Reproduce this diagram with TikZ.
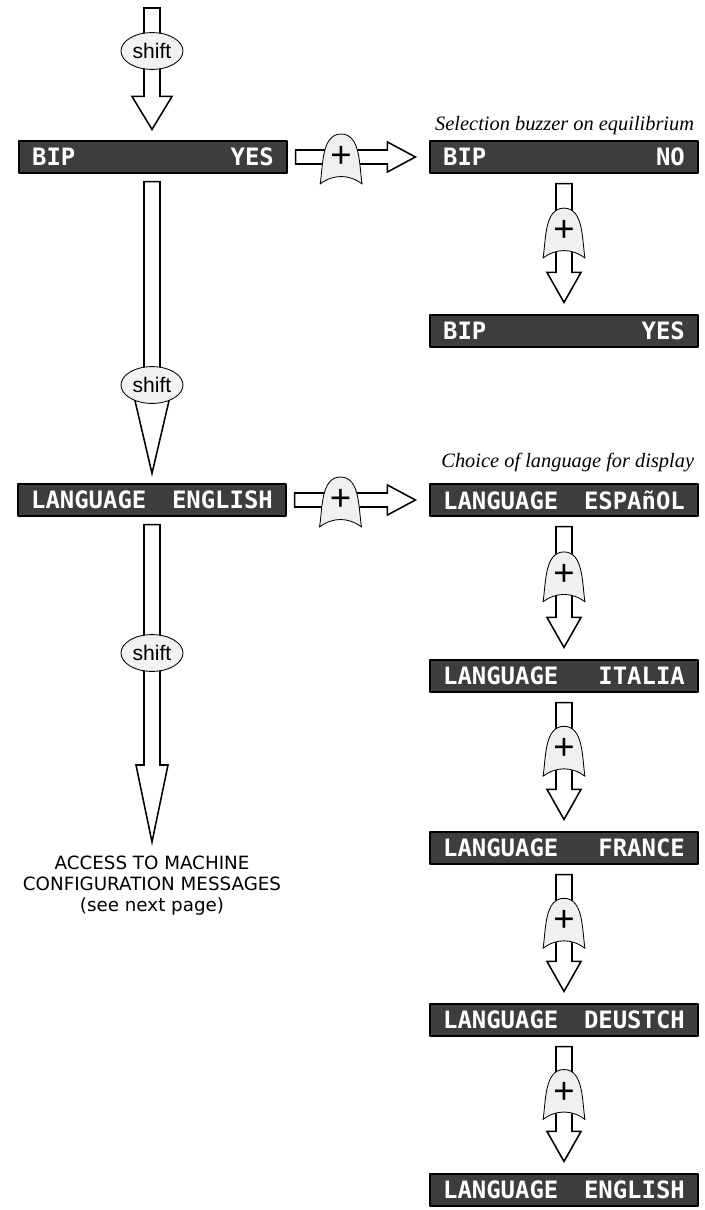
\documentclass[tikz,border=0pt]{standalone}
\usepackage{fontspec}
\usepackage{tikz}
\usetikzlibrary{calc,shapes.geometric}
\newfontfamily\lcdfont{DejaVu Sans Mono}
\newfontfamily\keyfont{Liberation Sans}
\newfontfamily\notefont{DejaVu Sans}
\newfontfamily\capfont{Liberation Serif}

% hollow block arrows, start and tip share x (or y)
\newcommand{\blockdown}[4]{%
  \draw[blockline] ($(#1)+(-8,0)$) -- ($(#1)+(8,0)$) -- ($(#2)+(8,-#3)$) -- ($(#2)+(#4,-#3)$)
    -- (#2) -- ($(#2)+(-#4,-#3)$) -- ($(#2)+(-8,-#3)$) -- cycle;}
\newcommand{\blockright}[2]{%
  \draw[blockline] ($(#1)+(0,-7)$) -- ($(#2)+(-28,-7)$) -- ($(#2)+(-28,-15)$) -- (#2)
    -- ($(#2)+(-28,15)$) -- ($(#2)+(-28,7)$) -- ($(#1)+(0,7)$) -- cycle;}

\tikzset{
  display/.style={draw=black, fill=black!76, text=white, line width=0.8pt,
    minimum width=6.7cm, minimum height=0.8cm, inner xsep=0.33cm, inner ysep=0pt,
    text width=6.04cm, align=left, font=\lcdfont\bfseries\fontsize{17}{17}\selectfont},
  shiftkey/.style={ellipse, draw=black, fill=black!5, line width=0.6pt,
    minimum width=1.55cm, minimum height=0.92cm, inner sep=0pt,
    font=\keyfont\fontsize{15}{15}\selectfont},
  blockline/.style={draw=black, fill=white, line width=1.1pt, line join=miter},
  keyfill/.style={draw=black, fill=black!6, line width=0.6pt},
  caption/.style={font=\capfont\itshape\fontsize{14.5}{15}\selectfont, anchor=base east},
  pluskey/.pic={
    \filldraw[keyfill] (-21,27) .. controls (-18,10) and (-20,-23) .. (0,-23)
      .. controls (20,-23) and (18,10) .. (21,27) .. controls (8,17) and (-8,17) .. cycle;
    \node[font=\keyfont\fontsize{26}{26}\selectfont, inner sep=0pt] at (0,0) {+};
  }
}

\begin{document}
\begin{tikzpicture}[x=0.025cm, y=-0.025cm, line join=round]
  \useasboundingbox (0,0) rectangle (704,1210);

  % left column
  \coordinate (top) at (152,8);
  \node[display] (bip1) at (153,157) {BIP\hfill YES};
  \node[display] (lang0) at (152,500) {LANGUAGE\hfill ENGLISH};
  \coordinate (t3) at (152,842);
  \node[font=\notefont\fontsize{13}{15}\selectfont, align=center, anchor=north] (access)
    at (152,851) {ACCESS TO MACHINE\\CONFIGURATION MESSAGES\\(see next page)};

  % right column
  \node[display] (bip2) at (564,157) {BIP\hfill NO};
  \node[display] (bip3) at (564,331) {BIP\hfill YES};
  \node[display] (lang1) at (564,500) {LANGUAGE\hfill ESPAñOL};
  \node[display] (lang2) at (564,676) {LANGUAGE\hfill ITALIA};
  \node[display] (lang3) at (564,848) {LANGUAGE\hfill FRANCE};
  \node[display] (lang4) at (564,1020) {LANGUAGE\hfill DEUSTCH};
  \node[display] (lang5) at (564,1190) {LANGUAGE\hfill ENGLISH};
  \node[caption] (cap1) at (699,130) {Selection buzzer on equilibrium};
  \node[caption] (cap2) at (699,467) {Choice of language for display};

  % shift arrows
  \coordinate (t1) at ($(bip1.north)+(-1,-11)$);
  \blockdown{top}{t1}{33}{20}
  \coordinate (s2) at ($(bip1.south)+(-1,8)$);
  \coordinate (t2) at ($(lang0.north)+(0,-10)$);
  \blockdown{s2}{t2}{77}{18}
  \coordinate (s3) at ($(lang0.south)+(0,8)$);
  \blockdown{s3}{t3}{77}{16}
  \node[shiftkey] (shift1) at (152,51) {shift};
  \node[shiftkey] (shift2) at (152,385) {shift};
  \node[shiftkey] (shift3) at (152,653) {shift};

  % plus arrows
  \coordinate (h1s) at ($(bip1.east)+(8,0)$);
  \coordinate (h1t) at ($(bip2.west)+(-14,0)$);
  \blockright{h1s}{h1t}
  \pic at ($(h1s)!0.38!(h1t)$) {pluskey};
  \coordinate (h2s) at ($(lang0.east)+(8,0)$);
  \coordinate (h2t) at ($(lang1.west)+(-14,0)$);
  \blockright{h2s}{h2t}
  \pic at ($(h2s)!0.38!(h2t)$) {pluskey};
  \foreach \a/\b in {bip2/bip3, lang1/lang2, lang2/lang3, lang3/lang4, lang4/lang5} {
    \coordinate (s) at ($(\a.south)+(0,10)$);
    \coordinate (t) at ($(\b.north)+(0,-12)$);
    \blockdown{s}{t}{30}{17}
    \pic at ($(s)!0.4!(t)$) {pluskey};
  }
\end{tikzpicture}
\end{document}
